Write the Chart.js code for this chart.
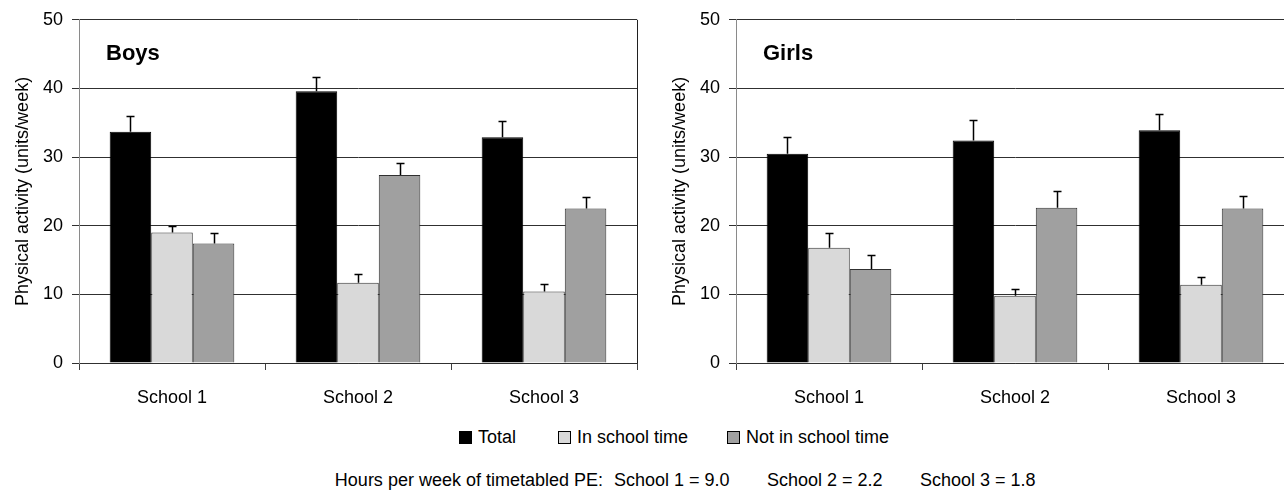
<!DOCTYPE html>
<html><head><meta charset="utf-8">
<script src="https://cdn.jsdelivr.net/npm/chart.js@4.4.1/dist/chart.umd.min.js"></script>
<style>
html,body{margin:0;padding:0;background:#fff;overflow:hidden;}
#wrap{position:relative;width:1284px;height:490px;overflow:hidden;font-family:'Liberation Sans',Arial,sans-serif;color:#000;}
canvas{position:absolute;top:0;}
.ttl{position:absolute;font-weight:bold;font-size:22px;line-height:22px;white-space:nowrap;}
.leg{position:absolute;top:428px;font-size:18px;line-height:18px;white-space:nowrap;display:flex;align-items:center;}
.leg i{display:inline-block;width:11px;height:11px;border:1px solid #000;margin-right:6px;}
.ft{position:absolute;top:471px;font-size:18px;line-height:18px;white-space:pre;}
</style></head>
<body><div id="wrap">
<canvas id="boys" width="660" height="420" style="left:0px;width:660px;height:420px"></canvas>
<canvas id="girls" width="660" height="420" style="left:657px;width:660px;height:420px"></canvas>
<div class="ttl" id="t1" style="left:106px;top:42px"></div>
<div class="ttl" id="t2" style="left:763px;top:42px"></div>
<div id="legend"></div>
<div id="footer"></div>
</div>
<script>
const categories = ['School 1', 'School 2', 'School 3'];
const seriesNames = ['Total', 'In school time', 'Not in school time'];
const seriesColors = ['#000000', '#d9d9d9', '#a0a0a0'];
const yTicks = [0, 10, 20, 30, 40, 50];
const yTitle = 'Physical activity (units/week)';
const panelTitles = ['Boys', 'Girls'];

const boysTotal = [33.7, 39.6, 32.9];
const boysIn = [19.0, 11.7, 10.4];
const boysNot = [17.4, 27.4, 22.5];
const boysTotalErr = [2.3, 2.1, 2.4];
const boysInErr = [1.0, 1.3, 1.1];
const boysNotErr = [1.5, 1.7, 1.7];

const girlsTotal = [30.5, 32.4, 33.9];
const girlsIn = [16.8, 9.8, 11.4];
const girlsNot = [13.7, 22.6, 22.5];
const girlsTotalErr = [2.4, 3.0, 2.4];
const girlsInErr = [2.1, 1.0, 1.1];
const girlsNotErr = [2.0, 2.5, 1.8];

const footerLabel = 'Hours per week of timetabled PE:';
const peSchools = ['School 1', 'School 2', 'School 3'];
const peHours = ['9.0', '2.2', '1.8'];

const FONT = "'Liberation Sans', Arial, sans-serif";

const errorBars = {
  id: 'errorBars',
  afterDatasetsDraw(chart) {
    const ctx = chart.ctx;
    const y = chart.scales.y;
    chart.data.datasets.forEach((ds, i) => {
      const meta = chart.getDatasetMeta(i);
      meta.data.forEach((bar, j) => {
        const top = Math.round(y.getPixelForValue(ds.data[j] + ds.errors[j])) + 0.5;
        const x = Math.round(bar.x) + 0.5;
        ctx.save();
        ctx.strokeStyle = '#000';
        ctx.lineWidth = 1.5;
        ctx.beginPath();
        ctx.moveTo(x, bar.y);
        ctx.lineTo(x, top);
        ctx.moveTo(x - 4, top);
        ctx.lineTo(x + 4, top);
        ctx.stroke();
        ctx.restore();
      });
    });
  }
};

function makeChart(id, vals, errs) {
  const datasets = seriesNames.map((n, k) => ({
    label: n,
    data: vals[k],
    errors: errs[k],
    backgroundColor: seriesColors[k],
    borderColor: k === 0 ? '#000' : '#303030',
    borderWidth: 1,
    borderSkipped: 'bottom',
    categoryPercentage: 0.67,
    barPercentage: 1.0
  }));
  return new Chart(document.getElementById(id), {
    type: 'bar',
    data: { labels: categories, datasets },
    plugins: [errorBars],
    options: {
      responsive: false,
      animation: false,
      events: [],
      layout: { padding: { top: 19, right: 23, bottom: 0, left: 0 } },
      plugins: { legend: { display: false }, tooltip: { enabled: false }, title: { display: false } },
      scales: {
        x: {
          offset: true,
          afterFit(s) { s.height = 57; },
          grid: {
            offset: true,
            drawOnChartArea: true,
            color: c => c.type === 'tick' ? 'rgba(0,0,0,0)' : '#202020',
            tickColor: '#404040',
            tickLength: 7,
            lineWidth: 1
          },
          border: { display: true, color: '#303030', width: 1 },
          ticks: { color: '#000', font: { family: FONT, size: 18 }, padding: 17, maxRotation: 0 }
        },
        y: {
          min: 0, max: 50,
          afterFit(s) { s.width = 79; },
          afterBuildTicks(s) { s.ticks = yTicks.map(v => ({ value: v })); },
          grid: { color: '#303030', tickColor: '#303030', tickLength: 7, lineWidth: 1 },
          border: { display: true, color: '#8a8a8a', width: 1 },
          ticks: { color: '#000', font: { family: FONT, size: 18 }, padding: 9 },
          title: { display: true, text: yTitle, color: '#000', font: { family: FONT, size: 18 }, padding: { top: 12, bottom: 0 } }
        }
      }
    }
  });
}

makeChart('boys', [boysTotal, boysIn, boysNot], [boysTotalErr, boysInErr, boysNotErr]);
makeChart('girls', [girlsTotal, girlsIn, girlsNot], [girlsTotalErr, girlsInErr, girlsNotErr]);

document.getElementById('t1').textContent = panelTitles[0];
document.getElementById('t2').textContent = panelTitles[1];

const legLeft = [459, 558, 727];
const legend = document.getElementById('legend');
seriesNames.forEach((n, k) => {
  const d = document.createElement('div');
  d.className = 'leg';
  d.style.left = legLeft[k] + 'px';
  const b = document.createElement('i');
  b.style.background = seriesColors[k];
  d.appendChild(b);
  d.appendChild(document.createTextNode(n));
  legend.appendChild(d);
});

const footer = document.getElementById('footer');
const f0 = document.createElement('div');
f0.className = 'ft';
f0.style.left = '0px'; f0.style.width = '603px'; f0.style.textAlign = 'right';
f0.textContent = footerLabel;
footer.appendChild(f0);
const ftLeft = [614, 767, 920];
peSchools.forEach((s, k) => {
  const d = document.createElement('div');
  d.className = 'ft';
  d.style.left = ftLeft[k] + 'px';
  d.textContent = s + ' = ' + peHours[k];
  footer.appendChild(d);
});
</script>
</body></html>
